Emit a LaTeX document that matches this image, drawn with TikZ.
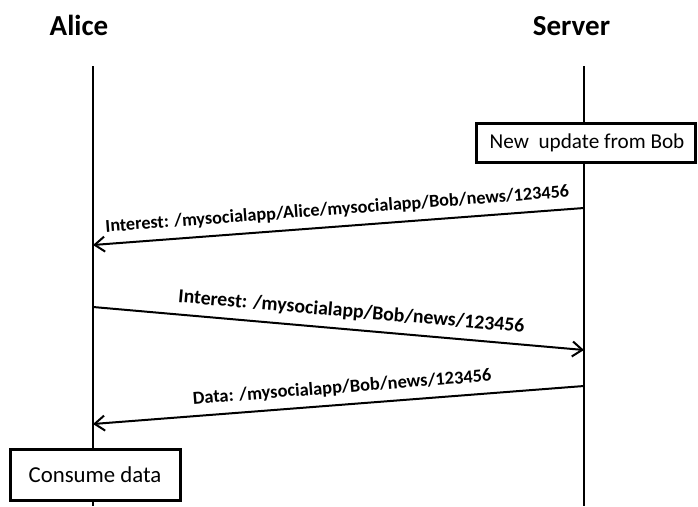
\documentclass[tikz,border=0pt]{standalone}
\usepackage{fontspec}
\setmainfont{Carlito}
\usetikzlibrary{arrows.meta}
\tikzset{
  lifeline/.style={line width=2pt},
  msg/.style={line width=2pt, -{Straight Barb[length=10pt,width=15pt,line width=2pt]}},
  title/.style={font=\fontsize{29}{34}\selectfont\bfseries, anchor=base, inner sep=0pt},
  lbl/.style={font=\fontsize{18.2}{22}\selectfont\bfseries, inner sep=0pt},
  actbox/.style={draw, line width=3pt, fill=white, font=\fontsize{22.8}{27}\selectfont, inner sep=0pt}
}
\begin{document}
\begin{tikzpicture}[x=1pt,y=-1pt]
\useasboundingbox (0,0) rectangle (698,506);
\node[title] (alice) at (79,35) {Alice};
\node[title] (server) at (571.5,35) {Server};
\coordinate (at) at (93,66);
\coordinate (ab) at (93,506);
\coordinate (st) at (584,66);
\coordinate (sb) at (584,506);
\draw[lifeline] (at) -- (ab);
\draw[lifeline] (st) -- (sb);
\node[actbox, font=\fontsize{21.2}{25}\selectfont, minimum width=219, minimum height=39, anchor=east] (upd) at (697,142.5) {\hspace*{2pt}New\ \ update from Bob};
\node[actbox, minimum width=170, minimum height=51] (cons) at (95,474.5) {Consume data};
\coordinate (s1) at (584,208);
\coordinate (a1) at (93,245);
\coordinate (a2) at (93,307);
\coordinate (s2) at (584,350);
\coordinate (s3) at (584,386);
\coordinate (a3) at (93,424);
\draw[msg] (s1) -- (a1) node[lbl, pos=0.5, sloped, above=8pt] (l1) {Interest: /mysocialapp/Alice/mysocialapp/Bob/news/123456};
\draw[msg] (a2) -- (s2) node[lbl, font=\fontsize{19.8}{23}\selectfont\bfseries, pos=0.523, sloped, above=8pt] (l2) {Interest: /mysocialapp/Bob/news/123456};
\draw[msg] (s3) -- (a3) node[lbl, font=\fontsize{18.4}{22}\selectfont\bfseries, pos=0.49, sloped, above=8pt] (l3) {Data: /mysocialapp/Bob/news/123456};
\end{tikzpicture}
\end{document}
